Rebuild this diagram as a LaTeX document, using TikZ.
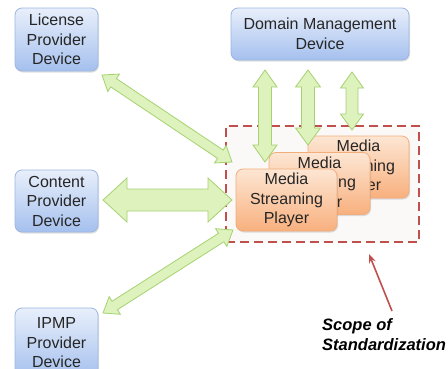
\documentclass[tikz,border=0pt]{standalone}
\usepackage{fontspec}
\setmainfont{Liberation Sans}
\usetikzlibrary{calc,shadows,arrows.meta}
\definecolor{bluetop}{HTML}{E8EFFB}
\definecolor{bluebot}{HTML}{A5C0EE}
\definecolor{blueline}{HTML}{9DB6E0}
\definecolor{ortop}{HTML}{FDE6D3}
\definecolor{orbot}{HTML}{F8B07E}
\definecolor{orline}{HTML}{F2AD7A}
\definecolor{grfill}{HTML}{DDF2BC}
\definecolor{grline}{HTML}{A6D272}
\definecolor{scopered}{HTML}{C0504D}
\definecolor{scopebg}{HTML}{FBF8F8}
\tikzset{
  devbox/.style={draw=blueline, line width=0.8pt, rounded corners=7pt,
    top color=bluetop, bottom color=bluebot, align=center, inner sep=0pt,
    font=\fontsize{16}{19.5}\selectfont, text=black!85,
    drop shadow={shadow xshift=1pt, shadow yshift=-1.5pt, opacity=0.25}},
  msbox/.style={draw=orline, line width=0.8pt, rounded corners=7pt,
    top color=ortop, bottom color=orbot, align=center, inner sep=0pt,
    minimum width=101pt, minimum height=62pt,
    font=\fontsize{16}{19.5}\selectfont, text=black!85,
    drop shadow={shadow xshift=1pt, shadow yshift=-1.5pt, opacity=0.25}},
  arrowstyle/.style={draw=grline, line width=0.8pt, fill=grfill, line join=miter},
  scopebox/.style={draw=scopered, line width=2.2pt, dash pattern=on 9pt off 5pt, fill=scopebg},
  scopearrow/.style={draw=scopered, line width=1.6pt, -{Stealth[length=9pt,width=7pt]}},
  scopetext/.style={font=\fontsize{16.5}{20}\selectfont\bfseries\itshape, align=left, anchor=north west, inner sep=0pt}
}
\newcommand\dblarrow[5]{%
  \path (#1) coordinate (dp) (#2) coordinate (dq);
  \path ($(dp)!#5!(dq)$) coordinate (dp1) ($(dq)!#5!(dp)$) coordinate (dq1);
  \draw[arrowstyle] (dp) -- ($(dp1)!#4!90:(dq)$) -- ($(dp1)!#3!90:(dq)$)
    -- ($(dq1)!#3!-90:(dp)$) -- ($(dq1)!#4!-90:(dp)$) -- (dq)
    -- ($(dq1)!#4!90:(dp)$) -- ($(dq1)!#3!90:(dp)$)
    -- ($(dp1)!#3!-90:(dq)$) -- ($(dp1)!#4!-90:(dq)$) -- cycle;
}
\begin{document}
\begin{tikzpicture}[x=1pt,y=-1pt]
\useasboundingbox (0,0) rectangle (448,368);
\fill[white] (0,0) rectangle (448,368);
% scope area
\node[scopebox, minimum width=193pt, minimum height=116pt, inner sep=0pt] (scope) at (322.5,184) {};
% devices
\node[devbox, minimum width=83pt, minimum height=63pt] (lic) at (56.5,39.5) {License\\Provider\\Device};
\node[devbox, minimum width=83pt, minimum height=62pt] (con) at (56.5,201) {Content\\Provider\\Device};
\node[devbox, minimum width=83pt, minimum height=70pt] (ipmp) at (56.5,343) {IPMP\\Provider\\Device};
\node[devbox, minimum width=178pt, minimum height=52pt] (dom) at (320,34) {Domain Management\\Device};
% vertical arrows (behind players)
\coordinate (v1a) at (265,70);  \coordinate (v1b) at (265,162);
\coordinate (v2a) at (308,70);  \coordinate (v2b) at (308,145);
\coordinate (v3a) at (352,72);  \coordinate (v3b) at (352,130);
\dblarrow{v3a}{v3b}{6pt}{11.5pt}{16pt}
% players
\node[msbox] (ms3) at (358.5,167) {Media\\Streaming\\Player};
\dblarrow{v2a}{v2b}{6.5pt}{12.5pt}{17pt}
\node[msbox] (ms2) at (319.5,183.5) {Media\\Streaming\\Player};
\dblarrow{v1a}{v1b}{6.5pt}{12pt}{17pt}
\node[msbox] (ms1) at (286.5,200) {Media\\Streaming\\Player};
% side arrows
\coordinate (la) at (102,75);  \coordinate (lb) at (232,162);
\coordinate (ca) at (103,200); \coordinate (cb) at (232,200);
\coordinate (ia) at (103,313); \coordinate (ib) at (233,230);
\dblarrow{la}{lb}{5pt}{10.5pt}{14pt}
\dblarrow{ca}{cb}{11pt}{22pt}{24pt}
\dblarrow{ia}{ib}{5pt}{10.5pt}{14pt}
% scope label
\coordinate (sa) at (392,311); \coordinate (sb) at (369,254);
\draw[scopearrow] (sa) -- (sb);
\node[scopetext] (stxt) at (322,318) {Scope of\\Standardization};
\end{tikzpicture}
\end{document}
